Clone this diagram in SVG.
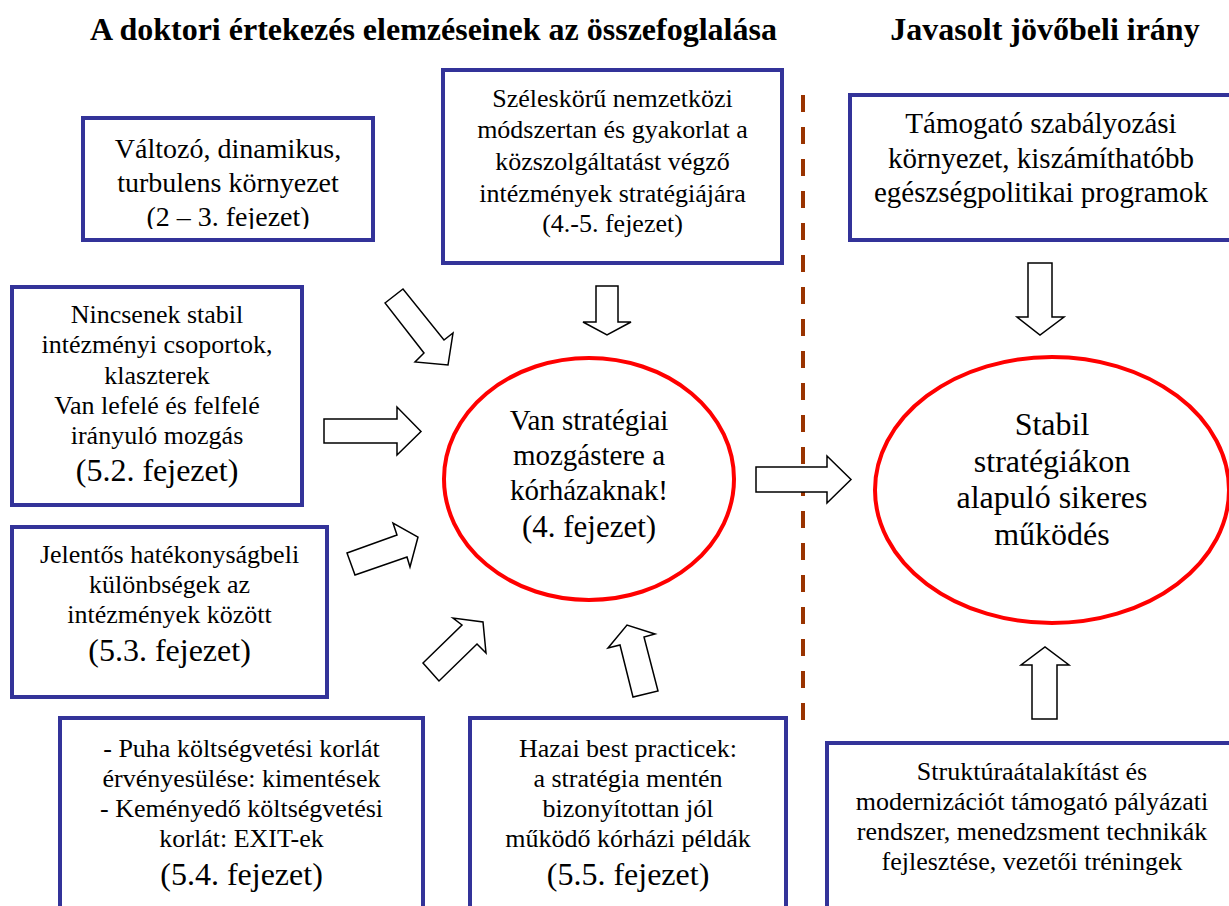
<svg xmlns="http://www.w3.org/2000/svg" width="1229" height="906" viewBox="0 0 1229 906" font-family="'Liberation Serif','Times New Roman',serif">
<style>
.t{font-family:"Liberation Serif","Times New Roman",serif;fill:#000;text-anchor:middle}
.h{font-weight:bold;font-size:32px}
.s26{font-size:26px}
.s28{font-size:28px}
.s29{font-size:29px}
.s32{font-size:32px}
.box{fill:#fff;stroke:#333399;stroke-width:4}
.ell{fill:#fff;stroke:#ff0000;stroke-width:4}
.arr{fill:#fff;stroke:#000;stroke-width:1.5;stroke-linejoin:miter}
</style>
<defs>
<clipPath id="c1"><rect x="80" y="115" width="300" height="114"/></clipPath>
</defs>
<rect width="1229" height="906" fill="#fff"/>
<g id="titles">
<text class="t h" x="433.5" y="40">A doktori értekezés elemzéseinek az összefoglalása</text>
<text class="t h" x="1045" y="40">Javasolt jövőbeli irány</text>
</g>
<g id="divider">
<line x1="803" y1="95" x2="803" y2="735" stroke="#993300" stroke-width="4" stroke-dasharray="17 15"/>
</g>
<g id="n1">
<rect class="box" x="83" y="118" width="290" height="122"/>
<g clip-path="url(#c1)">
<text class="t s28" x="228" y="158">Változó, dinamikus,</text>
<text class="t s28" x="228" y="192">turbulens környezet</text>
<text class="t s28" x="228" y="225.5">(2 – 3. fejezet)</text>
</g>
</g>
<g id="n2">
<rect class="box" x="12" y="287" width="290" height="218"/>
<text class="t s26" x="157" y="323">Nincsenek stabil</text>
<text class="t s26" x="157" y="353">intézményi csoportok,</text>
<text class="t s26" x="157" y="384">klaszterek</text>
<text class="t s26" x="157" y="414">Van lefelé és felfelé</text>
<text class="t s26" x="157" y="444">irányuló mozgás</text>
<text class="t s32" x="157" y="481">(5.2. fejezet)</text>
</g>
<g id="n3">
<rect class="box" x="12" y="527" width="315" height="170"/>
<text class="t s26" x="169.5" y="563">Jelentős hatékonyságbeli</text>
<text class="t s26" x="169.5" y="593">különbségek az</text>
<text class="t s26" x="169.5" y="623">intézmények között</text>
<text class="t s32" x="169.5" y="661">(5.3. fejezet)</text>
</g>
<g id="n4">
<rect class="box" x="60" y="718" width="363" height="200"/>
<text class="t s26" x="241.5" y="757">- Puha költségvetési korlát</text>
<text class="t s26" x="241.5" y="787">érvényesülése: kimentések</text>
<text class="t s26" x="241.5" y="817">- Keményedő költségvetési</text>
<text class="t s26" x="241.5" y="847">korlát: EXIT-ek</text>
<text class="t s32" x="241.5" y="885">(5.4. fejezet)</text>
</g>
<g id="n5">
<rect class="box" x="470" y="718" width="316" height="200"/>
<text class="t s26" x="628" y="757">Hazai best practicek:</text>
<text class="t s26" x="628" y="787">a stratégia mentén</text>
<text class="t s26" x="628" y="817">bizonyítottan jól</text>
<text class="t s26" x="628" y="847">működő kórházi példák</text>
<text class="t s32" x="628" y="885">(5.5. fejezet)</text>
</g>
<g id="n6">
<rect class="box" x="443" y="70" width="339" height="193"/>
<text class="t s26" x="612.5" y="107">Széleskörű nemzetközi</text>
<text class="t s26" x="612.5" y="138">módszertan és gyakorlat a</text>
<text class="t s26" x="612.5" y="170">közszolgáltatást végző</text>
<text class="t s26" x="612.5" y="202">intézmények stratégiájára</text>
<text class="t s26" x="612.5" y="232">(4.-5. fejezet)</text>
</g>
<g id="center">
<ellipse class="ell" cx="589" cy="479" rx="145" ry="121"/>
<text class="t s29" x="589" y="430">Van stratégiai</text>
<text class="t s29" x="589" y="465">mozgástere a</text>
<text class="t s29" x="589" y="500">kórházaknak!</text>
<text class="t" style="font-size:31px" x="589" y="537">(4. fejezet)</text>
</g>
<g id="n7">
<rect class="box" x="850" y="95" width="390" height="145"/>
<text class="t s29" x="1041" y="133">Támogató szabályozási</text>
<text class="t s29" x="1041" y="168">környezet, kiszámíthatóbb</text>
<text class="t s29" x="1041" y="202">egészségpolitikai programok</text>
</g>
<g id="goal">
<ellipse class="ell" cx="1052" cy="490" rx="177" ry="133"/>
<text class="t s32" x="1052" y="435">Stabil</text>
<text class="t s32" x="1052" y="472">stratégiákon</text>
<text class="t s32" x="1052" y="508">alapuló sikeres</text>
<text class="t s32" x="1052" y="545">működés</text>
</g>
<g id="n8">
<rect class="box" x="827" y="743" width="413" height="180"/>
<text class="t s26" x="1032" y="780">Struktúraátalakítást és</text>
<text class="t s26" x="1032" y="810">modernizációt támogató pályázati</text>
<text class="t s26" x="1032" y="840">rendszer, menedzsment technikák</text>
<text class="t s26" x="1032" y="870">fejlesztése, vezetői tréningek</text>
</g>
<g id="connectors">
<polygon class="arr" points="385,303 403,289 444,340 453,333 448,365 415,362 424,353"/>
<polygon class="arr" points="324,419 397,419 397,407 421,431.5 397,455 397,443 324,443"/>
<polygon class="arr" points="347,553 397,535 393,523 418,537 410,567 407,557 355,575"/>
<polygon class="arr" points="423,663 462,625 453,618 483,622 486,653 477,644 439,681"/>
<polygon class="arr" points="633,697 620,645 608,648 627,625 655,634 644,637 658,691"/>
<polygon class="arr" points="596,286 618,286 618,322 631,322 607,335 583,322 596,322"/>
<polygon class="arr" points="756,467 827,467 827,456 851,479.5 827,503 827,492 756,492"/>
<polygon class="arr" points="1028,263 1052,263 1052,317 1064,317 1040,335 1017,317 1028,317"/>
<polygon class="arr" points="1032,719 1032,665 1021,665 1045,647 1069,665 1057,665 1057,719"/>
</g>
</svg>
